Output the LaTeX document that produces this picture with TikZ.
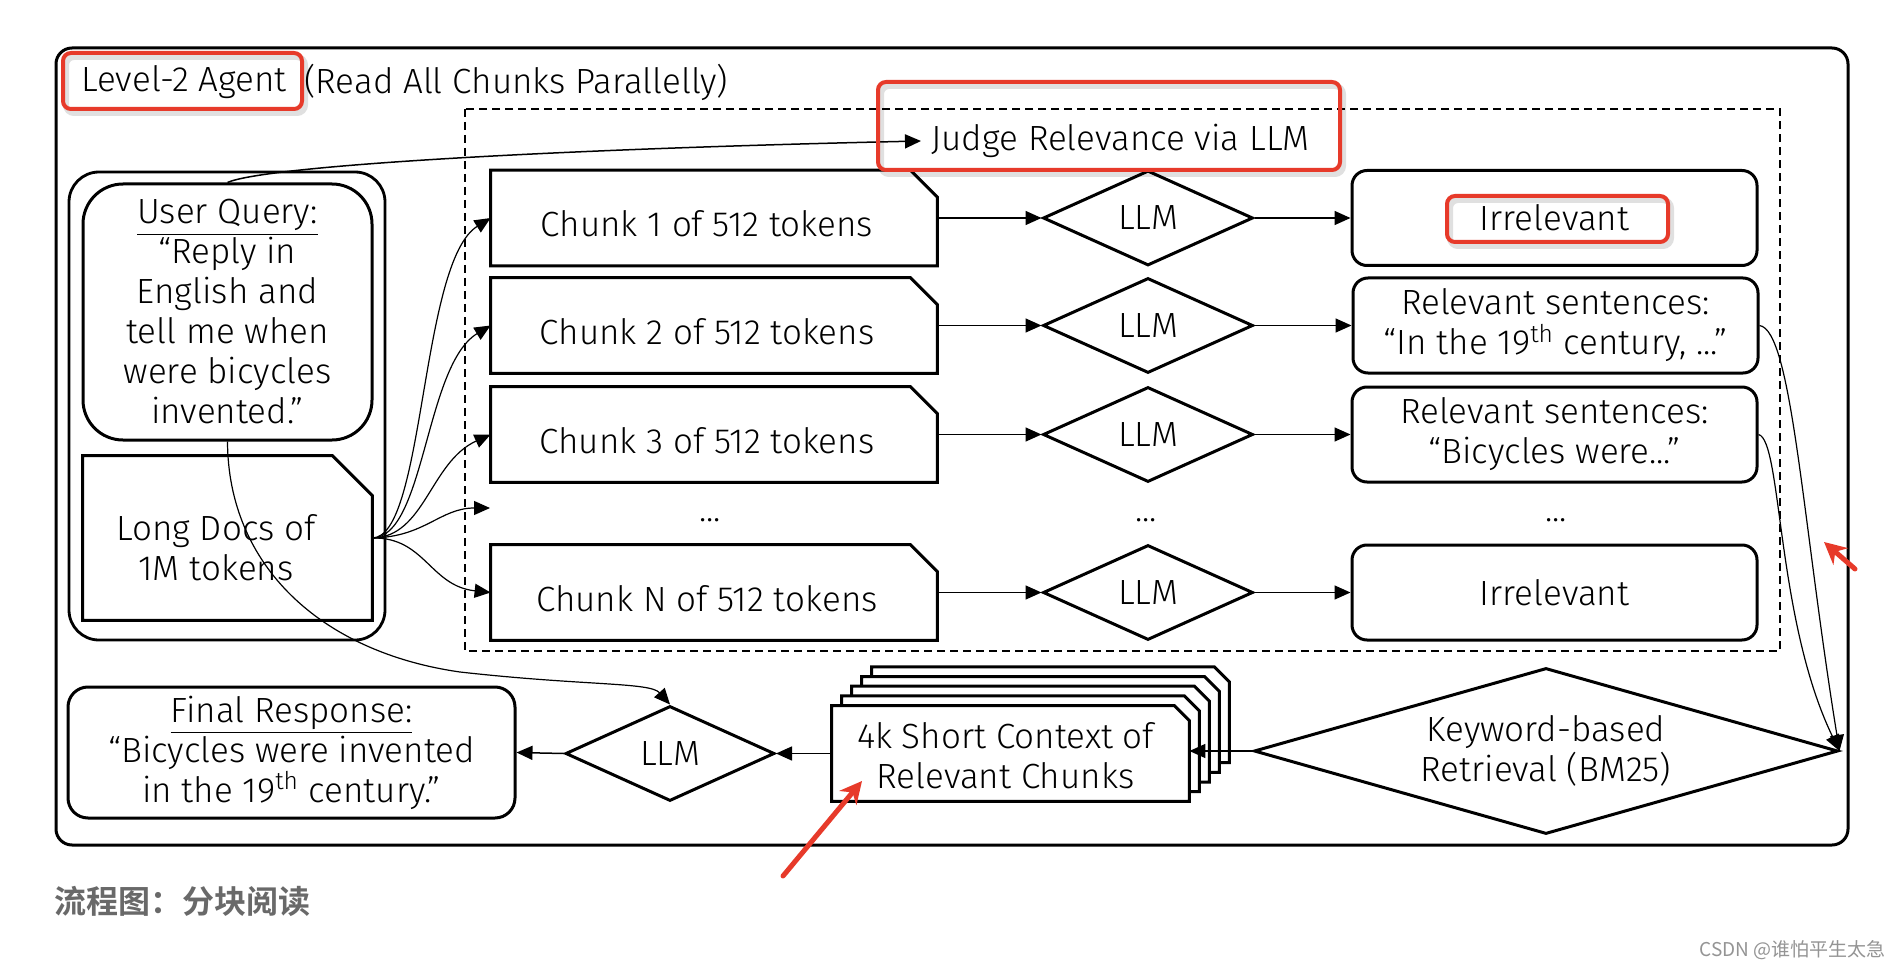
\documentclass[tikz,border=0pt]{standalone}
\usepackage{fontspec}
\IfFontExistsTF{Fira Sans Light}{\setmainfont{Fira Sans Light}}{\setmainfont{Fira Sans}}
\newfontfamily\cjk{Noto Sans CJK SC}
\IfFontExistsTF{Noto Sans CJK SC Bold}{\newfontfamily\cjkbold{Noto Sans CJK SC Bold}}{\newfontfamily\cjkbold{Noto Sans CJK SC}[FakeBold=3]}
\usetikzlibrary{shapes.geometric,arrows.meta}
\definecolor{annred}{RGB}{231,58,42}
\definecolor{capgray}{RGB}{105,105,105}
% chamfered outline around a node: #1 node, #2 chamfer, #3 #4 shift
\newcommand\chpath[4]{([shift={(#3,#4)}]#1.south west) -- ([shift={(#3,#4)}]#1.north west) -- ([shift={(#3,#4)},xshift=-#2]#1.north east) -- ([shift={(#3,#4)},yshift=-#2]#1.north east) -- ([shift={(#3,#4)}]#1.south east) -- cycle}
\newcommand\redrect[4]{\draw[redshadow] (#1+3,#2+4) rectangle (#3+3,#4+4); \draw[redbox] (#1,#2) rectangle (#3,#4);}
\tikzset{
  boxline/.style={line width=1.5pt, line join=miter},
  chunkbox/.style={minimum width=223pt, minimum height=47.5pt},
  llmd/.style={diamond, draw, line width=1.5pt, minimum width=105pt, minimum height=47.5pt, align=center},
  resbox/.style={rectangle, draw, line width=1.5pt, rounded corners=7.5pt, minimum width=202.5pt, minimum height=47.5pt, align=center},
  conn/.style={line width=0.75pt, -{Triangle[length=8pt,width=7pt]}},
  fan/.style={line width=0.6pt, -{Triangle[length=8pt,width=7pt]}},
  redbox/.style={draw=annred, line width=2pt, rounded corners=4pt},
  redshadow/.style={draw=black, opacity=0.12, line width=3pt, rounded corners=4pt},
  redarr/.style={draw=annred, line width=2.5pt, line cap=round, -{Stealth[length=11pt,width=11pt]}},
}
\begin{document}
\begin{tikzpicture}[x=0.5pt,y=-0.5pt, every node/.style={font=\fontsize{17.5}{20}\selectfont, inner sep=0pt}]
\useasboundingbox (0,0) rectangle (1900,968);
\fill[white] (0,0) rectangle (1900,968);

% outer frame and groups
\draw[line width=1.5pt, rounded corners=8pt] (56,48) rectangle (1848,845);
\draw[line width=1.4pt, dash pattern=on 4pt off 2.5pt] (465,109) rectangle (1780,651);
\draw[line width=1.4pt, rounded corners=15pt] (69,172) rectangle (385,640);

% title
\node[anchor=west] (title) at (81,82) {Level-2 Agent};
\node[anchor=west] (title2) at (304,82) {(Read All Chunks Parallelly)};
\node[anchor=west, inner xsep=5pt] (judge) at (921,141) {Judge Relevance via LLM};

% left column
\node[draw, line width=1.5pt, rounded corners=20pt, minimum width=144.5pt, minimum height=128pt, align=center] (uq) at (227.5,312)
  {\underline{User Query:}\\ “Reply in\\English and\\tell me when\\were bicycles\\invented.”};
\node[minimum width=144.5pt, minimum height=82pt] (ld) at (227.5,538) {};
\draw[boxline] \chpath{ld}{20pt}{0}{0};
\node[align=center] (ldt) at (216,548) {Long Docs of\\1M tokens};

% chunks
\node[chunkbox] (c1) at (714,218) {};
\node[chunkbox] (c2) at (714,325.5) {};
\node[chunkbox] (c3) at (714,434.5) {};
\node[chunkbox] (cN) at (714,592.5) {};
\foreach \n in {c1,c2,c3,cN} {\draw[boxline] \chpath{\n}{13.5pt}{0}{0};}
\node (t1) at ([shift={(-7,6)}]c1.center) {Chunk 1 of 512 tokens};
\node (t2) at ([shift={(-7,6)}]c2.center) {Chunk 2 of 512 tokens};
\node (t3) at ([shift={(-7,6)}]c3.center) {Chunk 3 of 512 tokens};
\node (tN) at ([shift={(-7,6)}]cN.center) {Chunk N of 512 tokens};
\node (d1) at (710,520) {...};
\coordinate (dotin) at (490,508);

% LLM diamonds
\node[llmd] (l1) at (1148,218) {LLM};
\node[llmd] (l2) at (1148,325.5) {LLM};
\node[llmd] (l3) at (1148,434.5) {LLM};
\node[llmd] (lN) at (1148,592.5) {LLM};
\node (d2) at (1146,520) {...};

% results
\node[resbox] (r1) at (1554.5,218) {Irrelevant};
\node[resbox] (r2) at (1555.5,325.5) {Relevant sentences:\\“In the 19\textsuperscript{th} century, ...”};
\node[resbox] (r3) at (1554.5,434.5) {Relevant sentences:\\“Bicycles were...”};
\node[resbox] (rN) at (1554.5,592.5) {Irrelevant};
\node (d3) at (1556,520) {...};

% bottom row
\node[diamond, draw, line width=1.5pt, minimum width=292pt, minimum height=83pt] (kw) at (1546,751) {};
\node[align=center] (kwt) at (kw.center) {Keyword-based\\Retrieval (BM25)};
\node[minimum width=178.5pt, minimum height=47.5pt] (ctx) at (1010.5,753.5) {};
\foreach \k in {4,3,2,1} {\draw[boxline, fill=white] \chpath{ctx}{7.5pt}{{10*\k}}{{-9.7*\k}};}
\draw[boxline, fill=white] \chpath{ctx}{7.5pt}{0}{0};
\node[align=center] (ctxt) at ([shift={(-5,2)}]ctx.center) {4k Short Context of\\Relevant Chunks};
\node[llmd, minimum width=104.5pt] (llm0) at (670,753.5) {LLM};
\node[draw, line width=1.5pt, rounded corners=10pt, minimum width=223.5pt, minimum height=65.5pt, align=center] (final) at (291.5,752.5)
  {\underline{Final Response:}\\ “Bicycles were invented\\in the 19\textsuperscript{th} century.”};

% connectors
\draw[conn] (uq.north) .. controls (262,167) and (520,150) .. (judge.west);
\draw[fan] (ld.east) .. controls (425,537) and (420,262) .. (c1.west);
\draw[fan] (ld.east) .. controls (425,537) and (425,365) .. (c2.west);
\draw[fan] (ld.east) .. controls (425,537) and (430,462) .. (c3.west);
\draw[fan] (ld.east) .. controls (425,537) and (440,508) .. (dotin);
\draw[fan] (ld.east) .. controls (425,537) and (430,586) .. (cN.west);
\foreach \a/\b in {c1/l1,c2/l2,c3/l3,cN/lN,l1/r1,l2/r2,l3/r3,lN/rN} {\draw[conn] (\a.east) -- (\b.west);}
\draw[fan] (r2.east) .. controls (1792,330) and (1802,520) .. (kw.east);
\draw[fan] (r3.east) .. controls (1782,440) and (1776,620) .. (kw.east);
\draw[conn] (kw.west) -- (kw.west -| ctx.east);
\draw[conn] (ctx.west) -- (llm0.east);
\draw[conn] (llm0.west) -- (final.east);
\draw[fan] (uq.south) .. controls (228,565) and (320,652) .. (460,672) .. controls (585,686) and (650,682) .. (llm0.north);

% red annotations
\redrect{63}{53}{302}{109}
\redrect{878}{82}{1340}{170}
\redrect{1447}{196}{1668}{242}
\coordinate (ra1) at (783,876);
\coordinate (rb1) at (862,781);
\draw[redarr] (ra1) -- (rb1);
\coordinate (ra2) at (1855,569);
\coordinate (rb2) at (1824,542);
\draw[redarr] (ra2) -- (rb2);

% caption and watermark
\node[anchor=west, font=\cjkbold\fontsize{16}{18}\selectfont, text=capgray] (cap) at (54,901) {流程图：分块阅读};
\node[anchor=east, font=\cjk\fontsize{9.5}{11}\selectfont, text=black!42] (wm) at (1886,950) {CSDN @谁怕平生太急};
\end{tikzpicture}
\end{document}
